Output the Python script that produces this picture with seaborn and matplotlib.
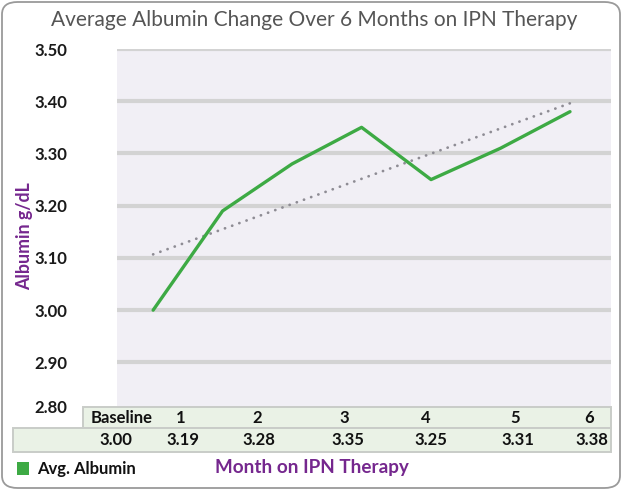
import numpy as np
import pandas as pd
import matplotlib
matplotlib.use("Agg")
import matplotlib.pyplot as plt
import matplotlib.transforms as mtransforms
from matplotlib.patches import FancyBboxPatch, Rectangle
import seaborn as sns

# ---- data ----
months = ["Baseline", "1", "2", "3", "4", "5", "6"]
albumin = [3.00, 3.19, 3.28, 3.35, 3.25, 3.31, 3.38]
value_labels = ["3.00", "3.19", "3.28", "3.35", "3.25", "3.31", "3.38"]
y_ticks = [2.80, 2.90, 3.00, 3.10, 3.20, 3.30, 3.40, 3.50]
title = "Average Albumin Change Over 6 Months on IPN Therapy"
y_label = "Albumin g/dL"
x_label = "Month on IPN Therapy"
legend_label = "Avg. Albumin"

# table column centres (pixels, layout only)
hdr_px = [122, 181, 257, 344, 426, 515, 589]
val_px = [116, 183, 259, 348, 431, 518, 592]

sns.set_theme(style="white")
plt.rcParams['font.family'] = ['Lato', 'DejaVu Sans']

W, H = 624, 492
fig = plt.figure(figsize=(W / 100, H / 100), dpi=100)

def fx(px):
    return px / W

def fy(py):
    return 1 - py / H

GREEN = "#3DAA44"
PURPLE = "#75278E"
GRID = "#D3D3D3"
BG = "#F1EFF5"
TBL = "#EAF2E6"
TBL_EDGE = "#C9CCC8"

ax_left, ax_right = 117, 611
ax_top, ax_bot = 49, 414.6
ax = fig.add_axes([fx(ax_left), fy(ax_bot), fx(ax_right - ax_left), (ax_bot - ax_top) / H])
ax.set_facecolor(BG)

df = pd.DataFrame({"idx": np.arange(len(months)), "month": months, "albumin": albumin})

sns.regplot(data=df, x="idx", y="albumin", ax=ax, scatter=False, ci=None, truncate=True,
            line_kws=dict(color="#8E8C94", lw=2.0, linestyle=(0, (0.05, 2.7)),
                          dash_capstyle="round", zorder=3))
sns.lineplot(data=df, x="idx", y="albumin", ax=ax, color=GREEN, lw=2.4, zorder=4)

ax.set_ylim(2.80, 3.50)
ax.set_xlim(-0.52, 6.59)
ax.set_yticks(y_ticks)
ax.set_yticklabels([f"{t:.2f}" for t in y_ticks], fontweight="bold", fontsize=12, color="#1a1a1a")
ax.set_xticks([])
ax.set_xlabel("")
ax.set_ylabel("")
ax.tick_params(axis="y", length=0, pad=36)
ax.grid(axis="y", color=GRID, lw=3.0, zorder=1)
ax.set_axisbelow(True)
for s in ax.spines.values():
    s.set_visible(False)

# nudge the bottom tick label up (it sits above the table)
lab = ax.get_yticklabels()[0]
lab.set_transform(lab.get_transform() + mtransforms.ScaledTranslation(0, 6 / 72, fig.dpi_scale_trans))

# ---- outer rounded border ----
border = FancyBboxPatch((fx(2), fy(488)), fx(618), (488 - 2) / H,
                        boxstyle="round,pad=0,rounding_size=0.025",
                        transform=fig.transFigure, fill=False,
                        edgecolor="#9A9A9A", lw=1.3, zorder=0)
fig.patches.append(border)

# ---- table ----
r1 = Rectangle((fx(83), fy(428)), fx(611 - 83), (428 - 407) / H, transform=fig.transFigure,
               facecolor=TBL, edgecolor=TBL_EDGE, lw=1.4, zorder=5)
r2 = Rectangle((fx(13), fy(452)), fx(611 - 13), (452 - 428) / H, transform=fig.transFigure,
               facecolor=TBL, edgecolor=TBL_EDGE, lw=1.4, zorder=5)
fig.add_artist(r1)
fig.add_artist(r2)
for m, px in zip(months, hdr_px):
    fig.text(fx(px), fy(418), m, ha="center", va="center", fontsize=12,
             fontweight="bold", color="#111111", zorder=6)
for v, px in zip(value_labels, val_px):
    fig.text(fx(px), fy(440), v, ha="center", va="center", fontsize=12,
             fontweight="bold", color="#111111", zorder=6)

# ---- titles ----
fig.text(fx(314), fy(20), title, ha="center", va="center", fontsize=15, color="#555555")
fig.text(fx(25), fy(236), y_label, ha="center", va="center", rotation=90, fontsize=12.8,
         fontweight="bold", color=PURPLE)
fig.text(fx(312), fy(468), x_label, ha="center", va="center", fontsize=13.6,
         fontweight="bold", color=PURPLE)

# legend
fig.add_artist(Rectangle((fx(17), fy(475)), fx(12), 13 / H, transform=fig.transFigure,
                         facecolor=GREEN, edgecolor="none"))
fig.text(fx(37), fy(469), legend_label, ha="left", va="center", fontsize=12,
         fontweight="bold", color="#111111")

fig.savefig("out.png", dpi=100)
